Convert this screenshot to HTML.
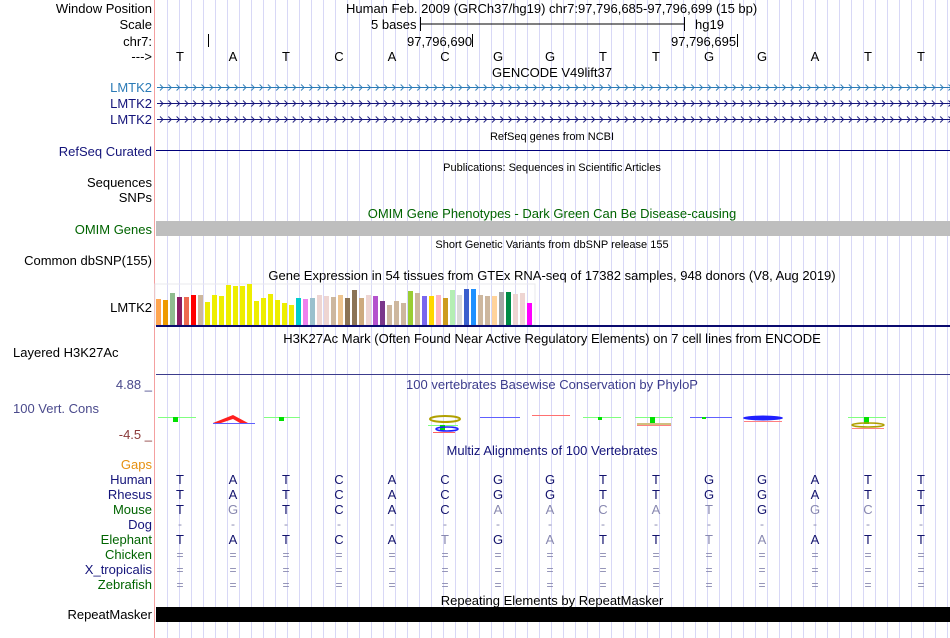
<!DOCTYPE html>
<html><head><meta charset="utf-8"><style>
html,body{margin:0;padding:0;background:#fff;}
svg{display:block;font-family:"Liberation Sans",Arial,sans-serif;}
</style></head><body>
<svg width="950" height="638" viewBox="0 0 950 638" xmlns="http://www.w3.org/2000/svg">
<defs>
<pattern id="grid" x="167" y="0" width="12" height="638" patternUnits="userSpaceOnUse">
<rect x="0" y="0" width="1" height="638" fill="#d8d8f6"/>
</pattern>
<pattern id="chev1" x="158" y="0" width="8.3" height="638" patternUnits="userSpaceOnUse">
<path d="M2,84.5 L5,87.5 L2,90.5" fill="none" stroke="#2a7ab6" stroke-width="0.9"/>
</pattern>
<pattern id="chev2" x="158" y="0" width="8.3" height="638" patternUnits="userSpaceOnUse">
<path d="M2,100.5 L5,103.5 L2,106.5 M2,116.5 L5,119.5 L2,122.5" fill="none" stroke="#14147a" stroke-width="0.9"/>
</pattern>
</defs>
<rect x="0" y="0" width="950" height="638" fill="#fff"/>
<rect x="156" y="0" width="794" height="638" fill="url(#grid)"/>
<rect x="154" y="0" width="1" height="638" fill="#f4a0a0"/>

<g font-size="13" text-anchor="end" fill="#000">
<text x="152" y="13">Window Position</text>
<text x="152" y="29">Scale</text>
<text x="152" y="46">chr7:</text>
<text x="152" y="61">---&gt;</text>
<text x="152" y="92" fill="#2a7ab6">LMTK2</text>
<text x="152" y="108" fill="#14147a">LMTK2</text>
<text x="152" y="124" fill="#14147a">LMTK2</text>
<text x="152" y="156" fill="#14147a">RefSeq Curated</text>
<text x="152" y="187">Sequences</text>
<text x="152" y="202">SNPs</text>
<text x="152" y="234" fill="#006400">OMIM Genes</text>
<text x="152" y="265">Common dbSNP(155)</text>
<text x="152" y="312">LMTK2</text>
<text x="152" y="389" fill="#4a4a8c">4.88 _</text>
<text x="152" y="439" fill="#8b3a3a">-4.5 _</text>
<text x="152" y="469" fill="#e69010">Gaps</text>
<text x="152" y="484" fill="#14147a">Human</text>
<text x="152" y="499" fill="#14147a">Rhesus</text>
<text x="152" y="514" fill="#006400">Mouse</text>
<text x="152" y="529" fill="#14147a">Dog</text>
<text x="152" y="544" fill="#006400">Elephant</text>
<text x="152" y="559" fill="#006400">Chicken</text>
<text x="152" y="574" fill="#14147a">X_tropicalis</text>
<text x="152" y="589" fill="#006400">Zebrafish</text>
<text x="152" y="619">RepeatMasker</text>
</g>
<text x="13" y="357" font-size="13">Layered H3K27Ac</text>
<text x="13" y="413" font-size="13" fill="#4a4a8c">100 Vert. Cons</text>

<!-- top header -->
<g font-size="13" fill="#000">
<text x="346" y="13">Human Feb. 2009 (GRCh37/hg19)   chr7:97,796,685-97,796,699 (15 bp)</text>
<text x="371" y="29">5 bases</text>
<text x="695" y="29">hg19</text>
<text x="407" y="46">97,796,690</text>
<text x="671" y="46">97,796,695</text>
</g>
<path d="M420.5,17 V31 M420.5,24 H684.5 M684.5,17 V31 M208.5,34 V47 M472.5,34 V47 M737.5,34 V47" stroke="#000" stroke-width="1" fill="none"/>
<g font-size="13" text-anchor="middle" fill="#000">
<text x="180" y="61">T</text><text x="233" y="61">A</text><text x="286" y="61">T</text><text x="339" y="61">C</text><text x="392" y="61">A</text><text x="445" y="61">C</text><text x="498" y="61">G</text><text x="550" y="61">G</text><text x="603" y="61">T</text><text x="656" y="61">T</text><text x="709" y="61">G</text><text x="762" y="61">G</text><text x="815" y="61">A</text><text x="868" y="61">T</text><text x="921" y="61">T</text>
</g>

<g text-anchor="middle">
<text x="552" y="77" font-size="13">GENCODE V49lift37</text>
<text x="552" y="140" font-size="11">RefSeq genes from NCBI</text>
<text x="552" y="171" font-size="11">Publications: Sequences in Scientific Articles</text>
<text x="552" y="218" font-size="13" fill="#006400">OMIM Gene Phenotypes - Dark Green Can Be Disease-causing</text>
<text x="552" y="248" font-size="11">Short Genetic Variants from dbSNP release 155</text>
<text x="552" y="280" font-size="13">Gene Expression in 54 tissues from GTEx RNA-seq of 17382 samples, 948 donors (V8, Aug 2019)</text>
<text x="552" y="343" font-size="13">H3K27Ac Mark (Often Found Near Active Regulatory Elements) on 7 cell lines from ENCODE</text>
<text x="552" y="389" font-size="13" fill="#3c3c8c">100 vertebrates Basewise Conservation by PhyloP</text>
<text x="552" y="455" font-size="13" fill="#14147a">Multiz Alignments of 100 Vertebrates</text>
<text x="552" y="605" font-size="13">Repeating Elements by RepeatMasker</text>
</g>

<!-- gene lines -->
<rect x="157" y="87" width="793" height="1" fill="#2a7ab6"/>
<rect x="157" y="103" width="793" height="1" fill="#14147a"/>
<rect x="157" y="119" width="793" height="1" fill="#14147a"/>
<rect x="157" y="80" width="793" height="48" fill="url(#chev1)"/>
<rect x="157" y="80" width="793" height="48" fill="url(#chev2)"/>
<rect x="156" y="150" width="794" height="1" fill="#00007a"/>

<rect x="156" y="221" width="794" height="15" fill="#bebebe"/>

<!-- GTEx -->
<rect x="155" y="284" width="380" height="41" fill="none" stroke="#e8e8ee" stroke-width="1"/>
<g>
<rect x="156" y="299" width="5" height="26" fill="#ffa54f"/>
<rect x="163" y="300" width="5" height="25" fill="#ee9a00"/>
<rect x="170" y="293" width="5" height="32" fill="#8fbc8f"/>
<rect x="177" y="297" width="5" height="28" fill="#8b1c62"/>
<rect x="184" y="297" width="5" height="28" fill="#ee6a50"/>
<rect x="191" y="295" width="5" height="30" fill="#ff0000"/>
<rect x="198" y="295" width="5" height="30" fill="#cdb79e"/>
<rect x="205" y="302" width="5" height="23" fill="#eeee00"/>
<rect x="212" y="295" width="5" height="30" fill="#eeee00"/>
<rect x="219" y="296" width="5" height="29" fill="#eeee00"/>
<rect x="226" y="285" width="5" height="40" fill="#eeee00"/>
<rect x="233" y="286" width="5" height="39" fill="#eeee00"/>
<rect x="240" y="286" width="5" height="39" fill="#eeee00"/>
<rect x="247" y="284" width="5" height="41" fill="#eeee00"/>
<rect x="254" y="301" width="5" height="24" fill="#eeee00"/>
<rect x="261" y="298" width="5" height="27" fill="#eeee00"/>
<rect x="268" y="294" width="5" height="31" fill="#eeee00"/>
<rect x="275" y="300" width="5" height="25" fill="#eeee00"/>
<rect x="282" y="303" width="5" height="22" fill="#eeee00"/>
<rect x="289" y="305" width="5" height="20" fill="#eeee00"/>
<rect x="296" y="298" width="5" height="27" fill="#00cdcd"/>
<rect x="303" y="299" width="5" height="26" fill="#ee82ee"/>
<rect x="310" y="298" width="5" height="27" fill="#9ac0cd"/>
<rect x="317" y="295" width="5" height="30" fill="#eed5d2"/>
<rect x="324" y="296" width="5" height="29" fill="#eed5d2"/>
<rect x="331" y="297" width="5" height="28" fill="#cdb79e"/>
<rect x="338" y="295" width="5" height="30" fill="#eec591"/>
<rect x="345" y="298" width="5" height="27" fill="#8b7355"/>
<rect x="352" y="290" width="5" height="35" fill="#8b7355"/>
<rect x="359" y="298" width="5" height="27" fill="#cdaa7d"/>
<rect x="366" y="295" width="5" height="30" fill="#eed5d2"/>
<rect x="373" y="296" width="5" height="29" fill="#b452cd"/>
<rect x="380" y="301" width="5" height="24" fill="#7a378b"/>
<rect x="387" y="305" width="5" height="20" fill="#cdb79e"/>
<rect x="394" y="301" width="5" height="24" fill="#cdb79e"/>
<rect x="401" y="303" width="5" height="22" fill="#cdb79e"/>
<rect x="408" y="291" width="5" height="34" fill="#9acd32"/>
<rect x="415" y="293" width="5" height="32" fill="#cdb79e"/>
<rect x="422" y="296" width="5" height="29" fill="#7a67ee"/>
<rect x="429" y="296" width="5" height="29" fill="#ffd700"/>
<rect x="436" y="295" width="5" height="30" fill="#ffb6c1"/>
<rect x="443" y="298" width="5" height="27" fill="#cd9b1d"/>
<rect x="450" y="290" width="5" height="35" fill="#b4eeb4"/>
<rect x="457" y="295" width="5" height="30" fill="#d9d9d9"/>
<rect x="464" y="289" width="5" height="36" fill="#3a5fcd"/>
<rect x="471" y="289" width="5" height="36" fill="#1e90ff"/>
<rect x="478" y="295" width="5" height="30" fill="#cdb79e"/>
<rect x="485" y="296" width="5" height="29" fill="#cdb79e"/>
<rect x="492" y="296" width="5" height="29" fill="#ffd39b"/>
<rect x="499" y="292" width="5" height="33" fill="#a6a6a6"/>
<rect x="506" y="292" width="5" height="33" fill="#008b45"/>
<rect x="513" y="294" width="5" height="31" fill="#eed5d2"/>
<rect x="520" y="293" width="5" height="32" fill="#eed5d2"/>
<rect x="527" y="303" width="5" height="22" fill="#ff00ff"/>
</g>
<rect x="156" y="325" width="794" height="2" fill="#0a0a6e"/>
<rect x="156" y="374" width="794" height="1" fill="#3c3c8c"/>

<!-- conservation glyphs -->
<g>
<rect x="158" y="417" width="38" height="1" fill="#80ff80"/><rect x="173" y="417" width="5" height="5" fill="#00e000"/>
<path d="M213,423 L233,415 L248,423 L240,423 L233,419 L221,423 Z" fill="#ff2020"/><rect x="213" y="423" width="42" height="1" fill="#6060ff"/>
<rect x="264" y="417" width="36" height="1" fill="#80ff80"/><rect x="279" y="417" width="5" height="4" fill="#00e000"/>
<ellipse cx="445" cy="419" rx="15" ry="3" fill="none" stroke="#b0a000" stroke-width="2"/>
<rect x="428" y="425" width="30" height="1" fill="#80ff80"/><rect x="440" y="425" width="5" height="5" fill="#00e000"/>
<ellipse cx="447" cy="429" rx="11" ry="2" fill="none" stroke="#2020ff" stroke-width="1.5"/>
<rect x="433" y="432" width="22" height="1" fill="#ff6060"/>
<rect x="480" y="417" width="40" height="1" fill="#6060ff"/>
<rect x="532" y="415" width="38" height="1" fill="#ff7070"/>
<rect x="583" y="417" width="38" height="1" fill="#80ff80"/><rect x="598" y="417" width="4" height="3" fill="#00e000"/>
<rect x="635" y="417" width="38" height="1" fill="#80ff80"/><rect x="650" y="417" width="5" height="6" fill="#00e000"/>
<rect x="637" y="423" width="34" height="2" fill="#d0c080"/><rect x="637" y="425" width="34" height="1" fill="#ff8080"/>
<rect x="690" y="417" width="42" height="1" fill="#6060ff"/><rect x="702" y="417" width="4" height="2" fill="#00e000"/>
<ellipse cx="763" cy="418" rx="20" ry="2.5" fill="#2020ff"/><rect x="744" y="421" width="38" height="1" fill="#ff8080"/>
<rect x="848" y="417" width="38" height="1" fill="#80ff80"/><rect x="864" y="417" width="5" height="7" fill="#00e000"/>
<ellipse cx="868" cy="425" rx="16" ry="2" fill="none" stroke="#b0a000" stroke-width="1.5"/><rect x="852" y="428" width="32" height="1" fill="#ff8080"/>
</g>

<!-- multiz -->
<g font-size="13" text-anchor="middle" fill="#14146e">
<text x="180" y="484">T</text><text x="233" y="484">A</text><text x="286" y="484">T</text><text x="339" y="484">C</text><text x="392" y="484">A</text><text x="445" y="484">C</text><text x="498" y="484">G</text><text x="550" y="484">G</text><text x="603" y="484">T</text><text x="656" y="484">T</text><text x="709" y="484">G</text><text x="762" y="484">G</text><text x="815" y="484">A</text><text x="868" y="484">T</text><text x="921" y="484">T</text>
<text x="180" y="499">T</text><text x="233" y="499">A</text><text x="286" y="499">T</text><text x="339" y="499">C</text><text x="392" y="499">A</text><text x="445" y="499">C</text><text x="498" y="499">G</text><text x="550" y="499">G</text><text x="603" y="499">T</text><text x="656" y="499">T</text><text x="709" y="499">G</text><text x="762" y="499">G</text><text x="815" y="499">A</text><text x="868" y="499">T</text><text x="921" y="499">T</text>
<text x="180" y="514">T</text><text x="233" y="514" fill="#8888b0">G</text><text x="286" y="514">T</text><text x="339" y="514">C</text><text x="392" y="514">A</text><text x="445" y="514">C</text><text x="498" y="514" fill="#8888b0">A</text><text x="550" y="514" fill="#8888b0">A</text><text x="603" y="514" fill="#8888b0">C</text><text x="656" y="514" fill="#8888b0">A</text><text x="709" y="514" fill="#8888b0">T</text><text x="762" y="514">G</text><text x="815" y="514" fill="#8888b0">G</text><text x="868" y="514" fill="#8888b0">C</text><text x="921" y="514">T</text>
<text x="180" y="544">T</text><text x="233" y="544">A</text><text x="286" y="544">T</text><text x="339" y="544">C</text><text x="392" y="544">A</text><text x="445" y="544" fill="#8888b0">T</text><text x="498" y="544">G</text><text x="550" y="544" fill="#8888b0">A</text><text x="603" y="544">T</text><text x="656" y="544">T</text><text x="709" y="544" fill="#8888b0">T</text><text x="762" y="544" fill="#8888b0">A</text><text x="815" y="544">A</text><text x="868" y="544">T</text><text x="921" y="544">T</text>
</g>
<g font-size="12" text-anchor="middle" fill="#8888b0">
<text x="180" y="528">-</text><text x="233" y="528">-</text><text x="286" y="528">-</text><text x="339" y="528">-</text><text x="392" y="528">-</text><text x="445" y="528">-</text><text x="498" y="528">-</text><text x="550" y="528">-</text><text x="603" y="528">-</text><text x="656" y="528">-</text><text x="709" y="528">-</text><text x="762" y="528">-</text><text x="815" y="528">-</text><text x="868" y="528">-</text><text x="921" y="528">-</text>
<text x="180" y="559">=</text><text x="233" y="559">=</text><text x="286" y="559">=</text><text x="339" y="559">=</text><text x="392" y="559">=</text><text x="445" y="559">=</text><text x="498" y="559">=</text><text x="550" y="559">=</text><text x="603" y="559">=</text><text x="656" y="559">=</text><text x="709" y="559">=</text><text x="762" y="559">=</text><text x="815" y="559">=</text><text x="868" y="559">=</text><text x="921" y="559">=</text>
<text x="180" y="574">=</text><text x="233" y="574">=</text><text x="286" y="574">=</text><text x="339" y="574">=</text><text x="392" y="574">=</text><text x="445" y="574">=</text><text x="498" y="574">=</text><text x="550" y="574">=</text><text x="603" y="574">=</text><text x="656" y="574">=</text><text x="709" y="574">=</text><text x="762" y="574">=</text><text x="815" y="574">=</text><text x="868" y="574">=</text><text x="921" y="574">=</text>
<text x="180" y="589">=</text><text x="233" y="589">=</text><text x="286" y="589">=</text><text x="339" y="589">=</text><text x="392" y="589">=</text><text x="445" y="589">=</text><text x="498" y="589">=</text><text x="550" y="589">=</text><text x="603" y="589">=</text><text x="656" y="589">=</text><text x="709" y="589">=</text><text x="762" y="589">=</text><text x="815" y="589">=</text><text x="868" y="589">=</text><text x="921" y="589">=</text>
</g>

<rect x="156" y="607" width="794" height="15" fill="#000"/>
</svg>
</body></html>
